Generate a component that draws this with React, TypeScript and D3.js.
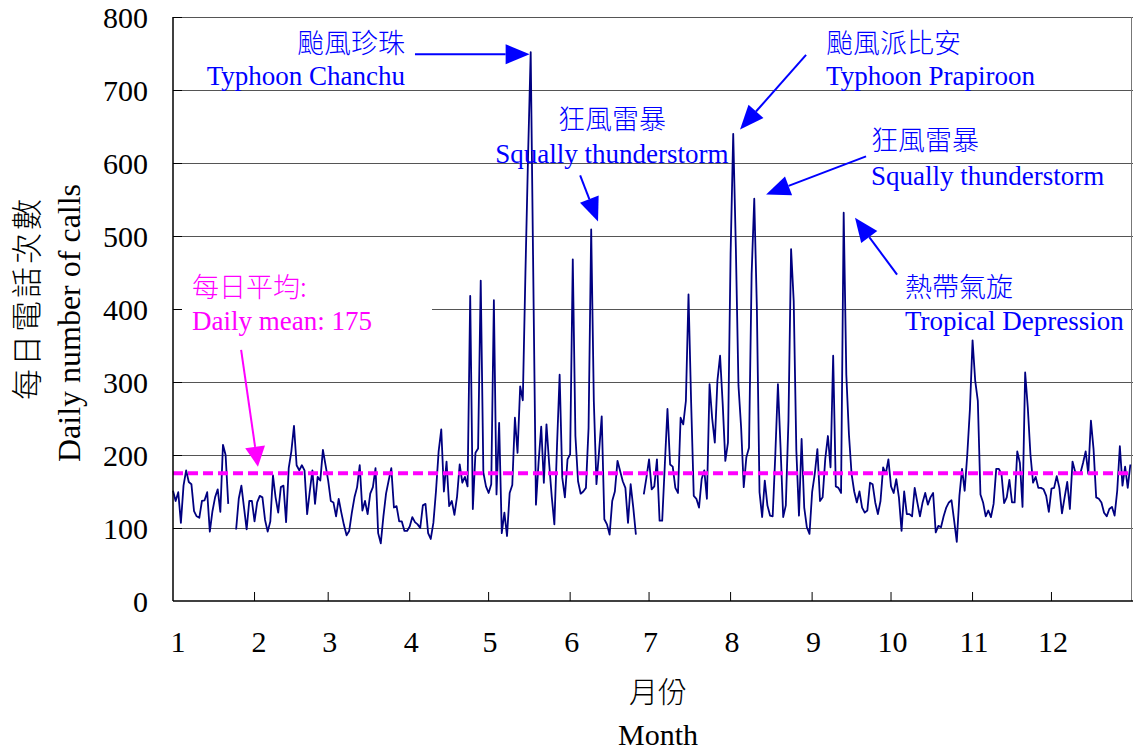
import React, { useEffect, useRef } from 'react';
import * as d3 from 'd3';

// Daily number of calls, one array per month (null = no record)
const jan: (number | null)[] = [151, 137, 149, 107, 158, 179, 163, 160, 123, 116, 114, 137, 138, 149, 95, 123, 142, 153, 122, 214, 200, 133, null, null, 98, 140, 158, 128, 98, 137, 137];
const feb: (number | null)[] = [109, 135, 144, 142, 111, 95, 109, 172, 142, 121, 156, 158, 108, 182, 205, 240, 186, 179, 186, 179, 119, 150, 179, 133, 170, 165, 207, 186];
const mar: (number | null)[] = [165, 137, 135, 116, 140, 121, 104, 90, 96, 121, 142, 156, 186, 124, 137, 119, 147, 156, 182, 93, 79, 116, 147, 165, 182, 128, 130, 109, 109, 96, 96];
const apr: (number | null)[] = [102, 115, 108, 105, 100, 131, 133, 93, 85, 107, 151, 205, 235, 150, 191, 130, 137, 118, 143, 187, 162, 170, 157, 418, 126, 203, 209, 439, 176, 157];
const may: (number | null)[] = [148, 160, 412, 146, 244, 93, 121, 89, 148, 159, 251, 203, 294, 275, 450, 610, 752, 440, 132, 190, 239, 162, 242, 189, 143, 105, 212, 310, 169, 142, 194];
const jun: (number | null)[] = [201, 468, 226, 164, 147, 150, 155, 237, 509, 274, 160, 205, 253, 112, 105, 91, 137, 150, 192, 178, 164, 155, 107, 160, 128, 91, null, null, 146, 169];
const jul: (number | null)[] = [194, 153, 157, 194, 110, 110, 187, 263, 187, 184, 155, 148, 251, 242, 274, 420, 272, 144, 140, 128, 167, 179, 140, 297, 250, 217, 302, 336, 270, 192, 217];
const aug: (number | null)[] = [475, 640, 484, 295, 238, 156, 197, 210, 448, 551, 400, 149, 115, 165, 131, 117, 116, 200, 297, 210, 115, 131, 247, 482, 411, 206, 117, 222, 128, 101, 92];
const sep: (number | null)[] = [149, 174, 208, 137, 142, 195, 226, 183, 336, 157, 155, 148, 532, 310, 228, 174, 150, 135, 150, 128, 121, 124, 162, 160, 135, 119, 137, 183, 174, 194];
const oct: (number | null)[] = [157, 148, 167, 142, 96, 150, 119, 119, 116, 155, 135, 116, 135, 148, 132, 142, 148, 94, 103, 101, 116, 128, 135, 138, 110, 81, 144, 181, 151, 201, 263];
const nov: (number | null)[] = [357, 302, 274, 146, 135, 116, 124, 115, 133, 181, 181, 174, 134, 142, 166, 135, 135, 205, 189, 129, 313, 265, 201, 162, 170, 155, 155, 153, 144, 122];
const dec: (number | null)[] = [154, 155, 171, 155, 120, 142, 163, 126, 191, 177, 174, 175, 189, 205, 174, 247, 208, 142, 140, 135, 121, 116, 126, 129, 117, 151, 212, 158, 184, 155, 187];

const months = [jan, feb, mar, apr, may, jun, jul, aug, sep, oct, nov, dec];
const monthLabels = ['1', '2', '3', '4', '5', '6', '7', '8', '9', '10', '11', '12'];
const yTicks = [0, 100, 200, 300, 400, 500, 600, 700, 800];
const dailyMean = 175;

// annotation text + arrow, placed in data space (day index, value)
interface Note {
  zh: string;
  en: string;
  day: number;
  zhValue: number;
  enValue: number;
  anchor: 'start' | 'middle' | 'end';
  from: [number, number];
  to: [number, number];
  color: string;
}

const notes: Note[] = [
  { zh: '颱風珍珠', en: 'Typhoon Chanchu', day: 88.2, zhValue: 751, enValue: 707, anchor: 'end', from: [92, 749], to: [135.6, 749], color: '#0000ff' },
  { zh: '狂風雷暴', en: 'Squally thunderstorm', day: 166.9, zhValue: 647, enValue: 600, anchor: 'middle', from: [154.8, 583], to: [161.6, 520], color: '#0000ff' },
  { zh: '颱風派比安', en: 'Typhoon Prapiroon', day: 248.3, zhValue: 751, enValue: 707, anchor: 'start', from: [240.7, 748], to: [215.6, 646], color: '#0000ff' },
  { zh: '狂風雷暴', en: 'Squally thunderstorm', day: 265.4, zhValue: 618, enValue: 570, anchor: 'start', from: [263.5, 609], to: [225.5, 557], color: '#0000ff' },
  { zh: '熱帶氣旋', en: 'Tropical Depression', day: 278.3, zhValue: 416, enValue: 371, anchor: 'start', from: [275.3, 447], to: [259.3, 525], color: '#0000ff' },
  { zh: '每日平均:', en: 'Daily mean: 175', day: 7.2, zhValue: 416, enValue: 371, anchor: 'start', from: [25.9, 344], to: [32.3, 184], color: '#ff00ff' },
];

const W = 1133;
const H = 753;
const left = 173;
const right = 1133;
const top = 17;
const bottom = 601;
const latin = '"Liberation Serif", "Times New Roman", serif';
const cjk = '"Noto Sans CJK TC", "Noto Sans CJK SC", sans-serif';

const App: React.FC = () => {
  const svgRef = useRef<SVGSVGElement | null>(null);

  useEffect(() => {
    if (!svgRef.current) return;
    const svg = d3.select(svgRef.current);
    svg.selectAll('*').remove();

    const daily = months.flat();
    const monthStarts = [0, ...d3.cumsum(months.map(m => m.length))].slice(0, 12);

    const x = d3.scaleLinear().domain([0, daily.length]).range([left, right]);
    const y = d3.scaleLinear().domain([0, 800]).range([bottom, top]);

    svg.append('rect').attr('width', W).attr('height', H).attr('fill', '#fff');

    // horizontal gridlines
    svg.append('g')
      .selectAll('line')
      .data(yTicks.filter(t => t > 0))
      .join('line')
      .attr('x1', left)
      .attr('x2', right)
      .attr('y1', d => y(d) + 0.5)
      .attr('y2', d => y(d) + 0.5)
      .attr('stroke', '#555')
      .attr('stroke-width', 1);

    // right border
    svg.append('line')
      .attr('x1', right - 1.5).attr('x2', right - 1.5)
      .attr('y1', top).attr('y2', bottom)
      .attr('stroke', '#777');

    // the mean label sits in a white box that hides the gridline behind it
    svg.append('rect')
      .attr('x', left + 1)
      .attr('y', y(455))
      .attr('width', 258)
      .attr('height', y(357) - y(455))
      .attr('fill', '#fff');

    // daily calls
    const line = d3.line<number | null>()
      .defined(d => d != null)
      .x((_, i) => x(i))
      .y(d => y(d as number));

    svg.append('path')
      .datum(daily)
      .attr('d', line)
      .attr('fill', 'none')
      .attr('stroke', '#000080')
      .attr('stroke-width', 1.8)
      .attr('stroke-linejoin', 'round');

    // daily mean
    svg.append('line')
      .attr('x1', x(0)).attr('x2', x(daily.length))
      .attr('y1', y(dailyMean)).attr('y2', y(dailyMean))
      .attr('stroke', '#ff00ff')
      .attr('stroke-width', 4)
      .attr('stroke-dasharray', '10,5');

    // axes
    const axes = svg.append('g').attr('stroke', '#000').attr('stroke-width', 1.5);
    axes.append('line').attr('x1', left).attr('x2', left).attr('y1', top).attr('y2', bottom);
    axes.append('line').attr('x1', left).attr('x2', right).attr('y1', bottom).attr('y2', bottom);
    axes.selectAll('.ytick')
      .data(yTicks.filter(t => t > 0))
      .join('line')
      .attr('class', 'ytick')
      .attr('x1', left).attr('x2', left + 9)
      .attr('y1', d => y(d) + 0.5).attr('y2', d => y(d) + 0.5)
      .attr('stroke-width', 1);
    axes.selectAll('.xtick')
      .data(monthStarts.slice(1))
      .join('line')
      .attr('class', 'xtick')
      .attr('x1', d => x(d)).attr('x2', d => x(d))
      .attr('y1', bottom).attr('y2', bottom - 9)
      .attr('stroke-width', 1);

    // tick labels
    svg.append('g')
      .selectAll('text')
      .data(yTicks)
      .join('text')
      .attr('x', 148)
      .attr('y', d => y(d))
      .attr('dy', '0.35em')
      .attr('text-anchor', 'end')
      .style('font-family', latin)
      .style('font-size', '30px')
      .text(d => d);

    svg.append('g')
      .selectAll('text')
      .data(monthStarts)
      .join('text')
      .attr('x', (d, i) => Math.max(x(d) + 1.5, left + 5) + (i === 1 ? 3 : 0))
      .attr('y', 652)
      .attr('text-anchor', 'middle')
      .style('font-family', latin)
      .style('font-size', '30px')
      .text((_, i) => monthLabels[i]);

    // axis titles
    svg.append('text')
      .attr('transform', 'translate(38,298) rotate(-90)')
      .attr('text-anchor', 'middle')
      .style('font-family', cjk)
      .style('font-weight', 300)
      .style('font-size', '31px')
      .style('letter-spacing', '3px')
      .text('每日電話次數');
    svg.append('text')
      .attr('transform', 'translate(80,323) rotate(-90)')
      .attr('text-anchor', 'middle')
      .style('font-family', latin)
      .style('font-size', '32px')
      .text('Daily number of calls');
    svg.append('text')
      .attr('x', 658).attr('y', 703)
      .attr('text-anchor', 'middle')
      .style('font-family', cjk)
      .style('font-weight', 300)
      .style('font-size', '29px')
      .text('月份');
    svg.append('text')
      .attr('x', 658).attr('y', 745)
      .attr('text-anchor', 'middle')
      .style('font-family', latin)
      .style('font-size', '30px')
      .text('Month');

    // annotations
    const notesG = svg.append('g');
    notes.forEach(n => {
      notesG.append('text')
        .attr('x', x(n.day)).attr('y', y(n.zhValue))
        .attr('text-anchor', n.anchor)
        .attr('fill', n.color)
        .style('font-family', cjk)
        .style('font-weight', 300)
        .style('font-size', '27px')
        .text(n.zh);
      notesG.append('text')
        .attr('x', x(n.day)).attr('y', y(n.enValue))
        .attr('text-anchor', n.anchor)
        .attr('fill', n.color)
        .style('font-family', latin)
        .style('font-size', '27px')
        .text(n.en);

      const x1 = x(n.from[0]), y1 = y(n.from[1]);
      const x2 = x(n.to[0]), y2 = y(n.to[1]);
      const ang = Math.atan2(y2 - y1, x2 - x1);
      const headLen = n.color === '#ff00ff' ? 20 : 24;
      const half = 10;
      const bx = x2 - headLen * Math.cos(ang);
      const by = y2 - headLen * Math.sin(ang);
      notesG.append('line')
        .attr('x1', x1).attr('y1', y1)
        .attr('x2', bx).attr('y2', by)
        .attr('stroke', n.color)
        .attr('stroke-width', 2);
      const pts: [number, number][] = [
        [x2, y2],
        [bx + half * Math.sin(ang), by - half * Math.cos(ang)],
        [bx - half * Math.sin(ang), by + half * Math.cos(ang)],
      ];
      notesG.append('polygon')
        .attr('points', pts.map(p => p.join(',')).join(' '))
        .attr('fill', n.color);
    });
  }, []);

  return (
    <div style={{ position: 'absolute', left: 0, top: 0, width: W, height: H }}>
      <svg ref={svgRef} width={W} height={H} style={{ display: 'block' }}></svg>
    </div>
  );
};

export default App;
